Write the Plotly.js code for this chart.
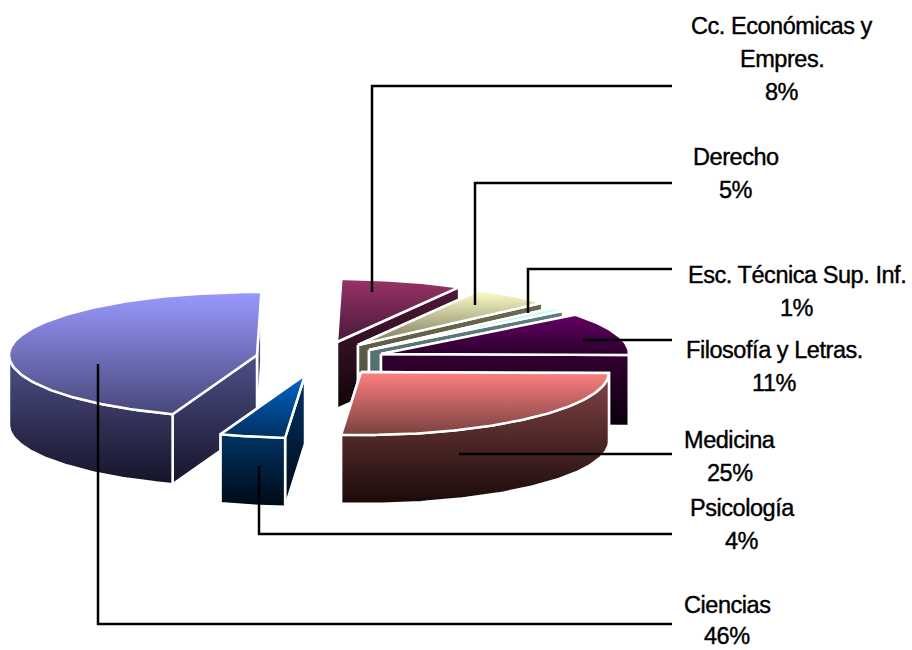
<!DOCTYPE html>
<html><head><meta charset="utf-8">
<script src="https://cdn.plot.ly/plotly-3.0.1.min.js"></script>
<style>html,body{margin:0;padding:0;background:#fff}
.annotation-text{letter-spacing:-0.45px;stroke:#000;stroke-width:0.4px}</style></head>
<body><div id="chart" style="width:912px;height:650px"></div>
<script>
// DATA
const categories = ["Cc. Económicas y Empres.","Derecho","Esc. Técnica Sup. Inf.","Filosofía y Letras.","Medicina","Psicología","Ciencias"];
const shares = [8,5,1,11,25,4,46];
const labelLines = [["Cc. Económicas y","Empres."],["Derecho"],["Esc. Técnica Sup. Inf."],["Filosofía y Letras."],["Medicina"],["Psicología"],["Ciencias"]];

// GEOMETRY AND STYLE
const RX = 248, RY = 63;
const edgeNudgeDeg = [1,0.7,1.2,1.1,1,4.6,5.5,1];   // perspective distortion of the slice edges
const drawOrder = [0,1,2,3,4,6,5];
const centreX = [337,358,369,381,361,305,257];
const centreY = [342,345,350,354,372,375,355];
const depths  = [67,67,67,71,69,69,70];
const wallTopY = [288,303,310,354,372,376,355];
const topColors  = [["#993366","#47193a"],["#ffffcc","#77775a"],["#ccffff","#a9dcdc"],["#660066","#2a002a"],["#ff8080","#7a4040"],["#0066cc","#003060"],["#9999ff","#47477a"]];
const wallColors = [["#4f1a38","#100408"],["#6b6b50","#4a4a38"],["#5f8080","#4a6060"],["#330033","#0a000a"],["#854545","#1a0a0a"],["#003366","#000a14"],["#50508a","#141428"]];
const labelX = [782,736,797,774,730,742,727];
const labelY = [26,157,275,350,440,508,605];
const lineGaps = [33,33,33,33,33,33,31];
const leaderX = [[372,372,672],[475,475,672],[528,528,672],[583,672],[459,672],[259,259,672],[98,98,672]];
const leaderY = [[292,86,86],[305,183,183],[313,269,269],[340,340],[454,454],[466,534,534],[364,624,624]];

const rad = d => d*Math.PI/180;
const total = shares.reduce((a,b)=>a+b,0);
const bounds = [0];
shares.forEach(s => bounds.push(bounds[bounds.length-1] + s/total*360));
const edges = bounds.map((b,i)=>b+edgeNudgeDeg[i]);

function px(i,t){return centreX[i]+RX*Math.sin(rad(t));}
function py(i,t){return centreY[i]-RY*Math.cos(rad(t));}

function poly(xs,ys,cols,y0,y1){
  return {type:"scatter",mode:"lines",x:xs,y:ys,fill:"toself",hoverinfo:"skip",showlegend:false,
    line:{color:"#ffffff",width:2.5},
    fillgradient:{type:"vertical",start:y0,stop:y1,colorscale:[[0,cols[0]],[1,cols[1]]]}};
}
const traces = [];
drawOrder.forEach(i=>{
  const a = edges[i], b = edges[i+1], d = depths[i];
  const cx = centreX[i], cy = centreY[i];
  const arc = []; for(let t=a;t<b;t+=1) arc.push(t); arc.push(b);
  const ys = arc.map(t=>py(i,t));
  const wallBottom = Math.max(cy,...ys)+d;
  // radial walls, the one further back first
  const radial = [a,b].sort((p,q)=>py(i,p)-py(i,q));
  radial.forEach(t=>{
    traces.push(poly([cx,px(i,t),px(i,t),cx,cx],[cy,py(i,t),py(i,t)+d,cy+d,cy],wallColors[i],wallTopY[i],wallBottom));
  });
  // outer wall, only where it faces the viewer
  const front = arc.filter(t=>t>=90&&t<=270);
  if(front.length>1){
    const fx = front.map(t=>px(i,t)), fy = front.map(t=>py(i,t));
    traces.push(poly(fx.concat(fx.slice().reverse(),[fx[0]]),
      fy.concat(fy.map(v=>v+d).reverse(),[fy[0]]),wallColors[i],Math.min(...fy),wallBottom));
  }
  // top face
  const tx = [cx].concat(arc.map(t=>px(i,t)),[cx]);
  const ty = [cy].concat(ys,[cy]);
  traces.push(poly(tx,ty,topColors[i],Math.min(...ty),Math.max(...ty)));
});
// leader lines
leaderX.forEach((xs,i)=>{
  traces.push({type:"scatter",mode:"lines",x:xs,y:leaderY[i],hoverinfo:"skip",showlegend:false,
    line:{color:"#000000",width:2.5}});
});

const font = {family:"'Liberation Sans', Arial, sans-serif",size:23.5,color:"#000000"};
const annotations = [];
function addText(text,x,y){
  annotations.push({text:text,x:x,y:y,xref:"x",yref:"y",showarrow:false,xanchor:"center",yanchor:"middle",font:font});
}
categories.forEach((c,i)=>{
  const lines = labelLines[i].concat([shares[i]+"%"]);
  lines.forEach((l,k)=>addText(l,labelX[i],labelY[i]+k*lineGaps[i]));
});

const layout = {
  width:912,height:650,margin:{l:0,r:0,t:0,b:0},paper_bgcolor:"#ffffff",plot_bgcolor:"#ffffff",showlegend:false,
  xaxis:{range:[0,912],visible:false,fixedrange:true},
  yaxis:{range:[650,0],visible:false,fixedrange:true},
  annotations:annotations
};
Plotly.newPlot("chart",traces,layout,{displayModeBar:false,staticPlot:true});
</script></body></html>
